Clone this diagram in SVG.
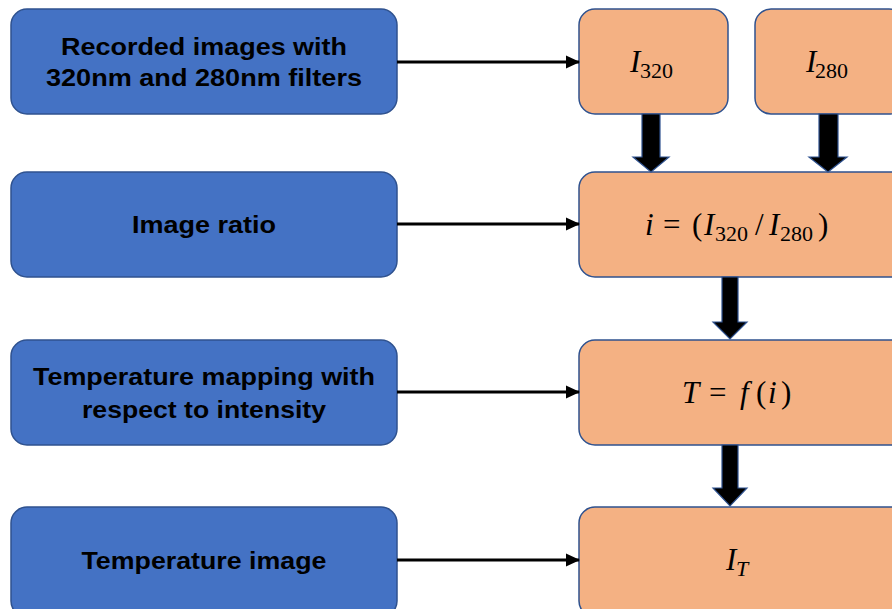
<svg xmlns="http://www.w3.org/2000/svg" width="892" height="609" viewBox="0 0 892 609">
<defs>
<style>
.blue{fill:#4472C4;stroke:#2F528F;stroke-width:1.5}
.orange{fill:#F4B183;stroke:#2F528F;stroke-width:1.5}
.lbl{font-family:"Liberation Sans",Arial,sans-serif;font-weight:bold;font-size:24px;fill:#000;text-anchor:middle}
.math{font-family:"Liberation Serif","DejaVu Serif",serif;font-style:italic;font-size:31px;fill:#000}
.sub{font-size:22px;font-style:normal}
.subi{font-size:22px}
.up{font-style:normal}
.conn{stroke:#000;stroke-width:3;fill:none}
.block{fill:#000;stroke:#2F528F;stroke-width:1.2}
</style>
<marker id="ah" markerWidth="14" markerHeight="14" refX="13" refY="7" orient="auto" markerUnits="userSpaceOnUse">
<path d="M0,0.5 L14,7 L0,13.5 z" fill="#000"/>
</marker>
</defs>
<rect width="892" height="609" fill="#fff"/>
<g id="n1"><rect class="blue" x="11" y="9" width="386" height="105" rx="16"/><text class="lbl" x="204" y="55" textLength="286" lengthAdjust="spacingAndGlyphs">Recorded images with</text><text class="lbl" x="204" y="86" textLength="316" lengthAdjust="spacingAndGlyphs">320nm and 280nm filters</text></g>
<g id="n2"><rect class="blue" x="11" y="172" width="386" height="105" rx="16"/><text class="lbl" x="204" y="233" textLength="144" lengthAdjust="spacingAndGlyphs">Image ratio</text></g>
<g id="n3"><rect class="blue" x="11" y="340" width="386" height="105" rx="16"/><text class="lbl" x="204" y="385" textLength="342" lengthAdjust="spacingAndGlyphs">Temperature mapping with</text><text class="lbl" x="204" y="418" textLength="244" lengthAdjust="spacingAndGlyphs">respect to intensity</text></g>
<g id="n4"><rect class="blue" x="11" y="507" width="386" height="110" rx="16"/><text class="lbl" x="204" y="569" textLength="245" lengthAdjust="spacingAndGlyphs">Temperature image</text></g>
<g id="m1"><rect class="orange" x="579" y="9" width="149" height="105" rx="16"/><text class="math" x="630" y="72">I<tspan class="sub" x="640" y="78">320</tspan></text></g>
<g id="m2"><rect class="orange" x="755" y="9" width="150" height="105" rx="16"/><text class="math" x="806" y="72">I<tspan class="sub" x="815" y="78">280</tspan></text></g>
<g id="m3"><rect class="orange" x="579" y="172" width="330" height="105" rx="16"/><text class="math" x="645" y="235">i<tspan class="up" x="663">=</tspan><tspan class="up" x="692">(</tspan><tspan x="704">I</tspan><tspan class="sub" x="715" y="241">320</tspan><tspan class="up" x="755" y="235">/</tspan><tspan x="769">I</tspan><tspan class="sub" x="780" y="241">280</tspan><tspan class="up" x="818" y="235">)</tspan></text></g>
<g id="m4"><rect class="orange" x="579" y="340" width="330" height="105" rx="16"/><text class="math" x="682" y="403">T<tspan class="up" x="709">=</tspan><tspan x="740">f</tspan><tspan class="up" x="756">(</tspan><tspan x="768">i</tspan><tspan class="up" x="781">)</tspan></text></g>
<g id="m5"><rect class="orange" x="579" y="507" width="330" height="110" rx="16"/><text class="math" x="726" y="570">I<tspan class="subi" x="736" y="576">T</tspan></text></g>
<g id="connectors">
<line class="conn" x1="397" y1="62" x2="579" y2="62" marker-end="url(#ah)"/>
<line class="conn" x1="397" y1="224" x2="579" y2="224" marker-end="url(#ah)"/>
<line class="conn" x1="397" y1="392" x2="579" y2="392" marker-end="url(#ah)"/>
<line class="conn" x1="397" y1="560" x2="579" y2="560" marker-end="url(#ah)"/>
<path class="block" d="M642,114 L660,114 L660,157 L669,157 L651,172 L633,157 L642,157 z"/>
<path class="block" d="M819,114 L838,114 L838,157 L847,157 L828,172 L809,157 L819,157 z"/>
<path class="block" d="M722,277 L738,277 L738,322 L747,322 L730,339 L713,322 L722,322 z"/>
<path class="block" d="M722,445 L738,445 L738,488 L747,488 L730,506 L713,488 L722,488 z"/>
</g>
</svg>
